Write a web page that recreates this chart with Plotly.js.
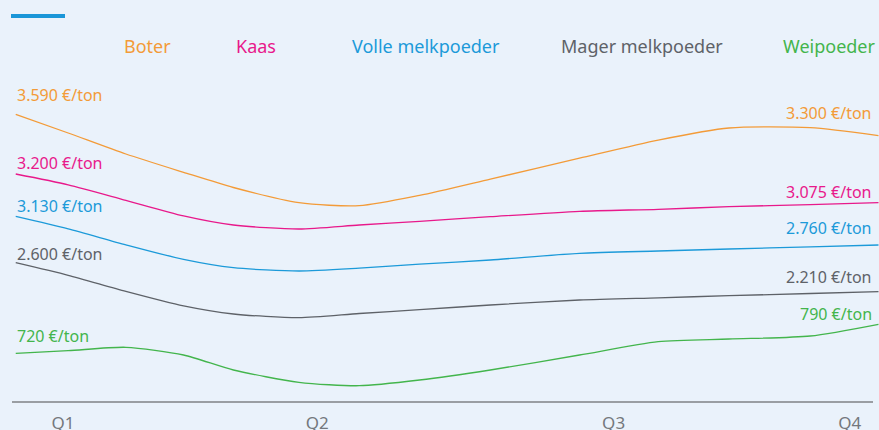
<!DOCTYPE html>
<html>
<head>
<meta charset="utf-8">
<script src="https://cdn.plot.ly/plotly-3.0.1.min.js"></script>
<style>
html,body{margin:0;padding:0;background:#EAF2FB;}
#chart{width:879px;height:430px;}
</style>
</head>
<body>
<div id="chart"></div>
<script>
// X positions in quarters (decimal)
const xQuarter = [0.82, 1.02, 1.24, 1.46, 1.65, 1.90, 2.13, 2.36, 2.63, 2.97, 3.27, 3.54, 3.85, 4.11];
const quarterTicks = [1.0, 1.97, 3.10, 4.0];
const quarterLabels = ['Q1', 'Q2', 'Q3', 'Q4'];

// Series names and (illustrative, unscaled) line levels
const seriesNames = ['Boter', 'Kaas', 'Volle melkpoeder', 'Mager melkpoeder', 'Weipoeder'];
const boter   = [287.7, 269.0, 248.0, 229.7, 214.5, 199.3, 196.3, 206.6, 222.9, 243.8, 261.9, 274.0, 274.3, 266.3];
const kaas    = [228.0, 217.2, 201.7, 186.1, 177.0, 173.0, 177.0, 180.7, 185.3, 190.7, 192.7, 195.3, 197.4, 199.3];
const volle   = [185.7, 173.2, 157.2, 142.6, 134.3, 131.0, 133.8, 137.8, 142.0, 148.7, 151.0, 153.0, 155.2, 157.0];
const mager   = [139.3, 126.7, 110.6,  96.1,  88.0,  84.3,  88.5,  92.3,  97.0, 102.0, 104.2, 106.3, 108.5, 110.3];
const wei     = [ 48.7,  51.3,  54.7,  47.0,  32.0,  19.7,  16.3,  22.0,  32.0,  47.0,  60.3,  63.0,  66.0,  77.7];

// Start and end price labels
const startLabels = ['3.590 €/ton', '3.200 €/ton', '3.130 €/ton', '2.600 €/ton', '720 €/ton'];
const endLabels   = ['3.300 €/ton', '3.075 €/ton', '2.760 €/ton', '2.210 €/ton', '790 €/ton'];

const allSeries = [boter, kaas, volle, mager, wei];
const colors = ['#F39B38', '#E8198B', '#1C9AD9', '#5E6268', '#43B54C'];
const startShift = [19, 11, 10, 9, 17];
const endShift = [23, 11, 17, 15, 10];
const legendX = [147.5, 256, 426, 642, 829.5];

const W = 879, FONT = 'Noto Sans, sans-serif';

const traces = allSeries.map((ys, i) => ({
  type: 'scatter', mode: 'lines', name: seriesNames[i],
  x: xQuarter, y: ys,
  line: {color: colors[i], width: 1.3, shape: 'spline', smoothing: 0.7},
  hoverinfo: 'skip', showlegend: false
}));

const annotations = [];
allSeries.forEach((ys, i) => {
  annotations.push({
    x: xQuarter[0], y: ys[0], xref: 'x', yref: 'y', text: startLabels[i],
    showarrow: false, xanchor: 'left', yanchor: 'middle', xshift: -1, yshift: startShift[i],
    font: {family: FONT, size: 16, color: colors[i]}
  });
  annotations.push({
    x: xQuarter[xQuarter.length - 1], y: ys[ys.length - 1], xref: 'x', yref: 'y', text: endLabels[i],
    showarrow: false, xanchor: 'right', yanchor: 'middle', xshift: -4, yshift: endShift[i],
    font: {family: FONT, size: 16, color: colors[i]}
  });
  annotations.push({
    x: legendX[i] / W, y: (402 - 46) / 402, xref: 'paper', yref: 'paper', text: seriesNames[i],
    showarrow: false, xanchor: 'center', yanchor: 'middle',
    font: {family: FONT, size: 18, color: colors[i]}
  });
});

const layout = {
  width: 879, height: 430,
  margin: {l: 0, r: 0, t: 0, b: 28},
  paper_bgcolor: '#EAF2FB', plot_bgcolor: '#EAF2FB',
  font: {family: FONT},
  xaxis: {
    range: [0.76, 4.112], showgrid: false, zeroline: false, showline: false,
    tickvals: quarterTicks, ticktext: quarterLabels,
    ticks: 'outside', ticklen: 6, tickcolor: 'rgba(0,0,0,0)',
    tickfont: {family: FONT, size: 17, color: '#74787D'}
  },
  yaxis: {range: [0, 402], visible: false, showgrid: false, zeroline: false},
  shapes: [
    {type: 'line', xref: 'paper', yref: 'paper', x0: 12 / W, x1: 873 / W, y0: 0, y1: 0,
     line: {color: '#9A9EA3', width: 2}},
    {type: 'rect', xref: 'paper', yref: 'paper', x0: 11 / W, x1: 65 / W,
     y0: (402 - 18) / 402, y1: (402 - 14) / 402, fillcolor: '#1A96D8', line: {width: 0}}
  ],
  annotations: annotations
};

Plotly.newPlot('chart', traces, layout, {displayModeBar: false, staticPlot: true});
</script>
</body>
</html>
